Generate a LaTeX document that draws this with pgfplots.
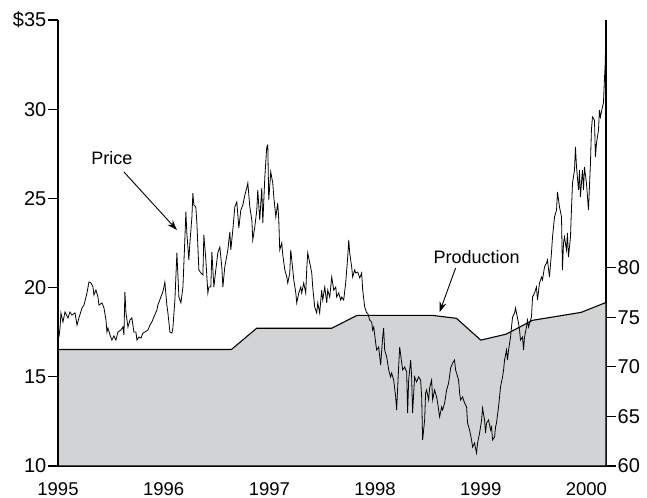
\documentclass[border=0pt]{standalone}
\usepackage{pgfplots}
\pgfplotsset{compat=1.18}
\usepackage{fontspec}
\setmainfont{Liberation Sans}
\usetikzlibrary{arrows.meta}
\definecolor{prodgray}{RGB}{209,211,212}
\begin{document}
\begin{tikzpicture}
\pgfplotsset{
  every axis/.append style={
    scale only axis, width=548pt, height=446pt,
    xmin=1995, xmax=2000.185,
    axis line style={line width=1.1pt},
    tick style={line width=1.1pt, black},
    major tick length=10pt,
    tick align=outside,
    yticklabel style={font=\fontsize{20}{23}\selectfont, inner sep=1.5pt},
    xticklabel style={font=\fontsize{18.5}{21}\selectfont, inner sep=0pt, yshift=-6pt},
  }
}
% Production (right axis)
\begin{axis}[
  name=ax,
  ymin=60, ymax=105,
  axis y line*=right,
  axis x line*=bottom,
  xtick={1995,1996,1997,1998,1999,2000},
  xticklabels={1995,1996,1997,1998,1999,2000},
  x tick style={draw=none},
  ytick={60,65,70,75,80},
  yticklabels={60,65,70,75,80},
]
\addplot[fill=prodgray, draw=black, line width=1.1pt] coordinates {
(1995.000,71.75) (1996.64,71.75) (1996.88,73.9) (1997.59,73.9) (1997.83,75.2)
(1998.54,75.2) (1998.77,74.9) (1999.00,72.7) (1999.24,73.3) (1999.49,74.7)
(1999.95,75.5) (2000.185,76.5)
} \closedcycle;
\end{axis}
% Price (left axis)
\begin{axis}[
  clip=false,
  ymin=10, ymax=35,
  axis y line*=left,
  axis x line=none,
  xtick=\empty,
  ytick={10,15,20,25,30,35},
  yticklabels={10,15,20,25,30,\$35},
]
\addplot[black, line width=0.8pt] coordinates {
(1995.009,17.23) (1995.019,17.73) (1995.028,18.58) (1995.047,18.07) (1995.066,18.63) (1995.095,18.30)
(1995.113,18.63) (1995.132,18.46) (1995.161,18.58) (1995.180,17.90) (1995.198,18.30)
(1995.227,18.86) (1995.246,19.02) (1995.265,19.47) (1995.274,19.70) (1995.293,20.31)
(1995.312,20.26) (1995.331,20.03) (1995.340,19.58) (1995.359,19.86) (1995.378,19.47)
(1995.388,19.02) (1995.416,19.14) (1995.435,18.86) (1995.454,18.18) (1995.463,17.51)
(1995.473,17.73) (1995.492,17.34) (1995.510,17.06) (1995.529,17.29) (1995.548,17.06)
(1995.567,17.51) (1995.595,17.62) (1995.614,17.79) (1995.624,17.34) (1995.633,19.75)
(1995.643,18.58) (1995.662,17.79) (1995.681,18.18) (1995.699,18.30) (1995.718,17.51)
(1995.737,17.51) (1995.747,17.06) (1995.766,17.23) (1995.785,17.17) (1995.803,17.45)
(1995.822,17.51) (1995.851,17.62) (1995.870,17.90) (1995.888,18.07) (1995.907,18.35)
(1995.936,18.74) (1995.945,19.02) (1995.973,19.47) (1995.992,19.75) (1996.011,20.31)
(1996.030,19.02) (1996.040,18.58) (1996.059,17.51) (1996.078,17.45) (1996.087,17.73)
(1996.106,19.30) (1996.125,21.94) (1996.144,19.47) (1996.163,19.14) (1996.182,20.03)
(1996.200,22.67) (1996.210,24.24) (1996.219,23.06) (1996.238,21.55) (1996.248,22.50)
(1996.267,23.96) (1996.276,25.30) (1996.285,24.63) (1996.304,24.52) (1996.314,23.62)
(1996.333,20.99) (1996.352,20.82) (1996.371,20.71) (1996.380,22.95) (1996.399,21.55)
(1996.418,19.70) (1996.427,20.03) (1996.446,20.03) (1996.456,21.99) (1996.475,20.03)
(1996.493,20.99) (1996.512,21.94) (1996.531,22.27) (1996.550,21.15) (1996.560,20.03)
(1996.578,21.15) (1996.607,22.11) (1996.626,23.12) (1996.635,22.11) (1996.654,23.23)
(1996.673,24.52) (1996.692,24.80) (1996.711,23.34) (1996.730,24.35) (1996.749,24.63)
(1996.768,25.19) (1996.786,25.58) (1996.796,25.86) (1996.815,24.52) (1996.834,23.79)
(1996.843,22.67) (1996.862,23.40) (1996.881,24.35) (1996.890,25.47) (1996.909,23.79)
(1996.928,25.58) (1996.938,23.62) (1996.957,26.20) (1996.975,27.88) (1996.985,27.99)
(1996.994,24.91) (1997.013,26.48) (1997.032,25.86) (1997.042,25.08) (1997.061,23.96)
(1997.079,24.74) (1997.089,23.79) (1997.098,22.11) (1997.117,22.50) (1997.127,21.83)
(1997.146,20.99) (1997.165,20.59) (1997.174,20.26) (1997.193,20.82) (1997.202,22.11)
(1997.212,21.55) (1997.231,20.43) (1997.250,19.70) (1997.259,19.14) (1997.278,19.70)
(1997.297,20.03) (1997.306,19.70) (1997.325,20.26) (1997.344,19.70) (1997.354,21.10)
(1997.363,21.94) (1997.382,21.38) (1997.401,20.82) (1997.410,20.03) (1997.429,18.91)
(1997.448,18.58) (1997.458,19.14) (1997.476,18.58) (1997.495,19.86) (1997.505,19.30)
(1997.524,20.03) (1997.543,19.14) (1997.552,19.86) (1997.571,19.47) (1997.590,20.59)
(1997.609,19.86) (1997.628,20.03) (1997.637,19.47) (1997.656,19.70) (1997.675,19.30)
(1997.684,19.47) (1997.703,19.30) (1997.722,20.26) (1997.741,21.71) (1997.751,22.67)
(1997.760,21.94) (1997.779,21.15) (1997.788,20.59) (1997.807,20.99) (1997.817,20.82)
(1997.836,20.87) (1997.855,20.54) (1997.873,20.82) (1997.883,19.86) (1997.902,18.91)
(1997.921,18.58) (1997.930,18.58) (1997.949,18.18) (1997.968,18.07) (1997.977,17.62)
(1997.987,17.79) (1998.006,16.89) (1998.015,16.50) (1998.034,16.67) (1998.053,15.66)
(1998.072,17.23) (1998.081,17.73) (1998.091,16.50) (1998.110,16.11) (1998.129,15.38)
(1998.147,14.99) (1998.157,15.21) (1998.176,14.82) (1998.195,13.87) (1998.204,13.14)
(1998.223,15.55) (1998.233,16.67) (1998.251,15.83) (1998.261,15.38) (1998.280,15.55)
(1998.299,15.27) (1998.308,12.97) (1998.318,14.82) (1998.337,15.94) (1998.346,14.99)
(1998.355,12.97) (1998.374,14.99) (1998.393,14.71) (1998.412,14.99) (1998.431,14.82)
(1998.441,13.87) (1998.450,11.46) (1998.469,12.58) (1998.478,14.09) (1998.488,14.26)
(1998.507,13.70) (1998.516,14.37) (1998.535,14.82) (1998.545,13.70) (1998.563,14.26)
(1998.582,13.87) (1998.592,13.53) (1998.611,12.75) (1998.630,13.31) (1998.639,13.14)
(1998.658,13.53) (1998.677,14.26) (1998.696,14.65) (1998.715,15.49) (1998.734,15.77)
(1998.752,15.94) (1998.762,15.38) (1998.771,15.21) (1998.790,14.82) (1998.800,14.09)
(1998.809,13.70) (1998.828,13.87) (1998.847,13.53) (1998.866,13.31) (1998.875,12.41)
(1998.894,12.02) (1998.913,11.46) (1998.923,11.06) (1998.941,11.29) (1998.960,10.73)
(1998.970,11.29) (1998.989,11.85) (1999.008,12.58) (1999.017,13.25) (1999.036,12.58)
(1999.045,11.85) (1999.055,12.41) (1999.074,12.58) (1999.093,12.02) (1999.102,12.19)
(1999.112,11.46) (1999.131,11.63) (1999.140,12.19) (1999.149,12.41) (1999.168,13.31)
(1999.178,13.87) (1999.187,14.43) (1999.206,14.99) (1999.216,15.38) (1999.225,15.94)
(1999.244,16.50) (1999.253,15.94) (1999.263,16.50) (1999.282,17.23) (1999.291,17.79)
(1999.301,18.35) (1999.320,18.58) (1999.329,18.86) (1999.338,18.58) (1999.357,18.02)
(1999.367,17.62) (1999.376,17.06) (1999.395,17.23) (1999.405,16.50) (1999.414,17.23)
(1999.433,17.79) (1999.442,18.18) (1999.452,17.79) (1999.471,18.18) (1999.480,18.35)
(1999.490,19.47) (1999.509,19.70) (1999.527,20.03) (1999.537,19.30) (1999.556,20.26)
(1999.575,20.59) (1999.584,20.43) (1999.603,21.15) (1999.622,21.38) (1999.631,21.55)
(1999.650,20.59) (1999.669,21.94) (1999.679,22.84) (1999.698,23.96) (1999.717,24.35)
(1999.726,25.36) (1999.745,24.52) (1999.764,23.96) (1999.773,20.99) (1999.783,22.50)
(1999.792,22.84) (1999.811,22.11) (1999.820,23.06) (1999.830,21.71) (1999.849,22.84)
(1999.858,24.35) (1999.868,25.86) (1999.887,26.59) (1999.896,27.88) (1999.906,26.76)
(1999.925,25.47) (1999.934,26.59) (1999.943,25.08) (1999.962,26.59) (1999.972,25.47)
(1999.981,26.76) (2000.000,25.86) (2000.010,25.08) (2000.019,24.35) (2000.038,26.98)
(2000.047,28.83) (2000.057,29.56) (2000.076,29.39) (2000.085,27.32) (2000.095,28.10)
(2000.114,28.83) (2000.123,29.95) (2000.132,29.56) (2000.151,30.12) (2000.161,30.35)
(2000.170,31.64) (2000.178,32.59) (2000.185,35.00)
};
\node[font=\fontsize{18}{21}\selectfont] at (axis cs:1995.51,27.26) {Price};
\draw[line width=0.9pt, -{Stealth[length=10pt,width=7pt]}] (axis cs:1995.624,26.48) -- (axis cs:1996.125,23.23);
\node[font=\fontsize{18}{21}\selectfont] at (axis cs:1998.96,21.71) {Production};
\draw[line width=0.9pt, -{Stealth[length=10pt,width=7pt]}] (axis cs:1998.762,21.10) -- (axis cs:1998.611,18.63);
\end{axis}
\path ([shift={(-58pt,-32pt)}]ax.south west) rectangle ([shift={(41pt,20pt)}]ax.north east);
\end{tikzpicture}
\end{document}
